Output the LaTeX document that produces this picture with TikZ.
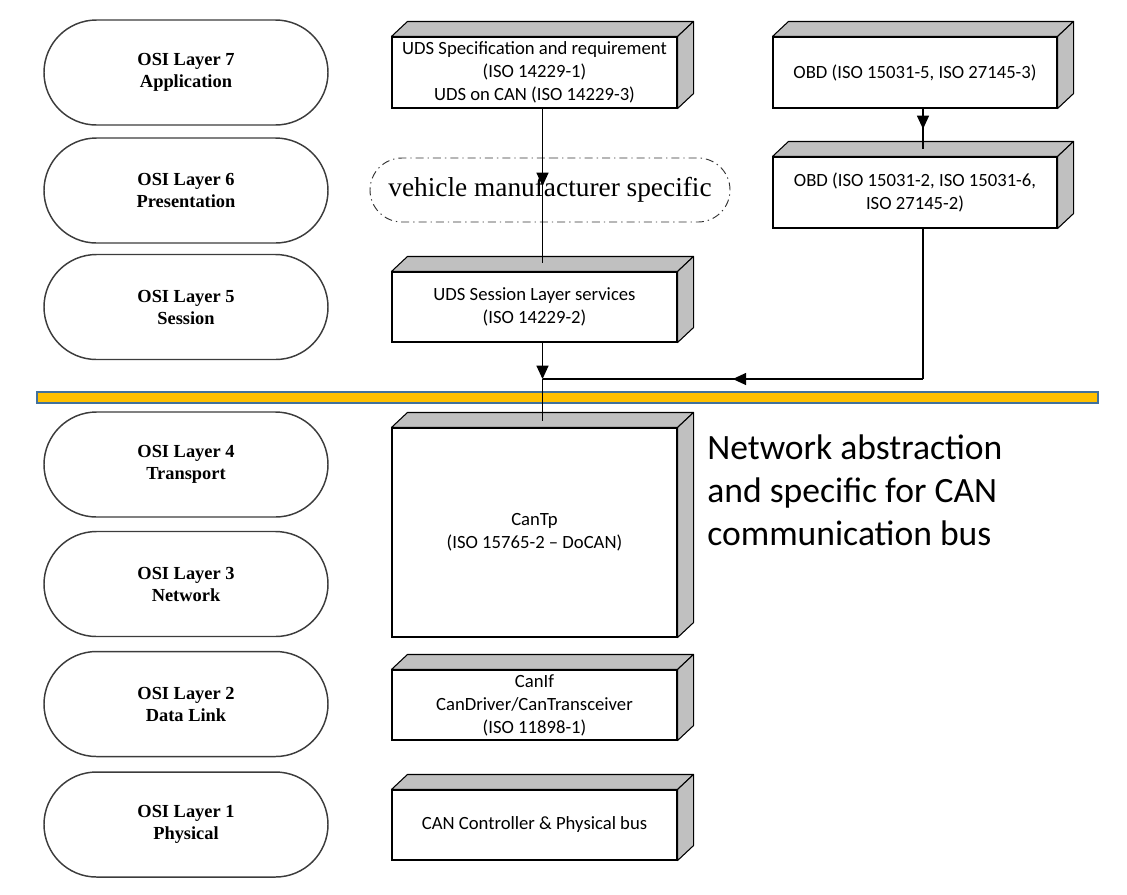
\documentclass[tikz,border=0pt]{standalone}
\usepackage{fontspec}
\setmainfont{Carlito}
\newfontfamily\osiserif{Liberation Serif}
\usetikzlibrary{shapes.misc,arrows.meta,decorations.markings,calc}
\definecolor{facegray}{HTML}{C0C0C0}
\definecolor{baryellow}{HTML}{FFC000}
\definecolor{barblue}{HTML}{41719C}
\definecolor{osiline}{HTML}{3C3C3C}
\tikzset{
 osi/.style={rounded rectangle, draw=osiline, line width=1.1pt, minimum width=213pt, minimum height=78.75pt, font=\osiserif\bfseries\fontsize{13.8}{16.5}\selectfont, align=center, inner sep=0pt},
 cubefront/.style={draw=black, line width=0.8pt, fill=white, minimum width=213.75pt, align=center, inner sep=0pt, font=\fontsize{14}{17.3}\selectfont},
 cubeface/.style={draw=black, line width=0.8pt, fill=facegray, line join=round},
 conn/.style={draw=black, line width=0.9pt},
 midarrow/.style={decoration={markings, mark=at position 0.5 with {\arrow{Triangle[length=10pt,width=9pt]}}}, postaction={decorate}},
 endarrow/.style={-{Triangle[length=10pt,width=9pt]}},
 vms/.style={rounded rectangle, draw=black!80, line width=0.7pt, dash pattern=on 6pt off 3pt on 1pt off 3pt, minimum width=270pt, minimum height=48pt, font=\osiserif\fontsize{20.5}{24}\selectfont, inner sep=0pt},
 bar/.style={draw=barblue, fill=baryellow, line width=1.5pt},
 note/.style={anchor=west, align=left, inner sep=0pt, font=\fontsize{26.7}{32.25}\selectfont},
}
\newcommand\cubefaces[1]{%
 \path[cubeface] (#1.north west) -- ++(16,-15) -- ($(#1.north east)+(16,-15)$) -- (#1.north east) -- cycle;
 \path[cubeface] (#1.north east) -- ++(16,-15) -- ($(#1.south east)+(16,-15)$) -- (#1.south east) -- cycle;
}
\begin{document}
\begin{tikzpicture}[x=0.75pt,y=-0.75pt]
\useasboundingbox (0,0) rectangle (1127,894);
% OSI layers
\node[osi] (l7) at (186,72.5) {OSI Layer 7\\Application};
\node[osi] (l6) at (186,190.5) {OSI Layer 6\\Presentation};
\node[osi] (l5) at (186,307) {OSI Layer 5\\Session};
\node[osi] (l4) at (186,464.5) {OSI Layer 4\\Transport};
\node[osi] (l3) at (186,584) {OSI Layer 3\\Network};
\node[osi] (l2) at (186,704) {OSI Layer 2\\Data Link};
\node[osi] (l1) at (186,824.5) {OSI Layer 1\\Physical};
% vehicle manufacturer specific
\node[vms] (vms) at (550,190) {vehicle manufacturer specific};
% cuboids
\node[cubefront, minimum height=53.25pt] (uds) at (534.5,72.5) {UDS Specification and requirement\\(ISO 14229-1)\\UDS on CAN (ISO 14229-3)};
\cubefaces{uds}
\node[cubefront, minimum width=213pt, minimum height=53.25pt] (obd1) at (915,72.5) {OBD (ISO 15031-5, ISO 27145-3)};
\cubefaces{obd1}
\node[cubefront, minimum width=213pt, minimum height=53.25pt] (obd2) at (915,192.5) {OBD (ISO 15031-2, ISO 15031-6,\\ISO 27145-2)};
\cubefaces{obd2}
\node[cubefront, minimum height=52.5pt] (ses) at (534.5,307) {UDS Session Layer services\\(ISO 14229-2)};
\cubefaces{ses}
\node[cubefront, minimum height=156.75pt] (cantp) at (534.5,532.5) {CanTp\\(ISO 15765-2 -- DoCAN)};
\cubefaces{cantp}
\node[cubefront, minimum height=52.5pt] (canif) at (534.5,705) {CanIf\\CanDriver/CanTransceiver\\(ISO 11898-1)};
\cubefaces{canif}
\node[cubefront, minimum height=52.5pt] (canctrl) at (534.5,825) {CAN Controller \& Physical bus};
\cubefaces{canctrl}
% bar
\path[bar] (37,392) rectangle (1098,403);
% note
\node[note] (note) at (707,490) {Network abstraction\\and specific for CAN\\communication bus};
% connectors
\coordinate (vx) at (542.5,0);
\coordinate (ox) at (923,0);
\coordinate (junc) at (542.5,379);
\coordinate (corner) at (923,379);
\draw[conn,midarrow] (uds.south -| vx) -- ($(ses.north -| vx)+(0,-8)$);
\draw[conn,endarrow] (ses.south -| vx) -- (junc);
\draw[conn] (junc) -- ($(cantp.north -| vx)+(0,-6)$);
\draw[conn] (obd2.south -| ox) -- (corner);
\draw[conn,midarrow] (corner) -- (junc);
\draw[conn,midarrow] (obd1.south -| ox) -- ($(obd2.north -| ox)+(0,-7)$);
\end{tikzpicture}
\end{document}
